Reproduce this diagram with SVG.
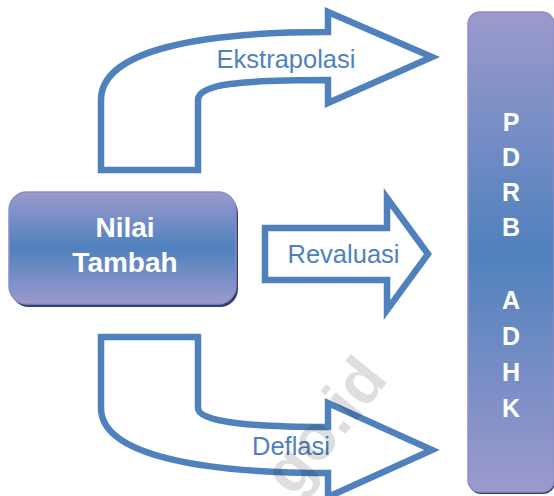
<svg xmlns="http://www.w3.org/2000/svg" width="554" height="496" viewBox="0 0 554 496">
<defs>
<linearGradient id="gBox" x1="0" y1="0" x2="0" y2="1">
<stop offset="0" stop-color="#9d9acd"/>
<stop offset="0.5" stop-color="#4f81bd"/>
<stop offset="1" stop-color="#9d9acd"/>
</linearGradient>
<style>
.arrow{fill:#ffffff;stroke:#4f81bd;stroke-width:6.5;stroke-linejoin:miter}
.lbl{font-family:"Liberation Sans",Arial,sans-serif;font-size:25.5px;fill:#4f81bd;text-anchor:middle}
.wt{font-family:"Liberation Sans",Arial,sans-serif;font-weight:bold;fill:#ffffff;text-anchor:middle}
.box{fill:url(#gBox);stroke:#8f8cc6;stroke-width:1.5}
.shadow{fill:#2f4170}
</style>
</defs>
<g id="connectors">
<g id="ekstrapolasi">
<path class="arrow" d="M101,170 L101,100 C101,50 200,32 328,32 L328,12 L432,57 L328,103 L328,80 C240,80 198,84 198,100 L198,170 Z"/>
<text class="lbl" x="286" y="68">Ekstrapolasi</text>
</g>
<g id="revaluasi">
<path class="arrow" d="M265,228 L387,228 L387,198 L428,254 L387,310 L387,280 L265,280 Z"/>
<text class="lbl" x="343.5" y="263">Revaluasi</text>
</g>
<g id="deflasi">
<path class="arrow" d="M101,337 L198,337 L198,408 C198,422 250,427 328,427 L328,403 L432,450 L328,497 L328,473 C200,473 101,455 101,408 Z"/>
<text class="lbl" x="291" y="455">Deflasi</text>
</g>
</g>
<g id="nilai-tambah">
<rect class="shadow" x="11" y="195" width="227" height="112" rx="18"/>
<rect class="box" x="9" y="192" width="227" height="112" rx="18"/>
<text class="wt" x="125" y="237" font-size="28">Nilai</text>
<text class="wt" x="125" y="272" font-size="28">Tambah</text>
</g>
<g id="pdrb-adhk">
<rect class="shadow" x="469" y="14" width="86" height="480" rx="12"/>
<rect class="box" x="468" y="12" width="86" height="480" rx="12"/>
<g class="wt" font-size="25">
<text x="511" y="131">P</text>
<text x="511" y="166">D</text>
<text x="511" y="201">R</text>
<text x="511" y="236">B</text>
<text x="511" y="309">A</text>
<text x="511" y="345">D</text>
<text x="511" y="381">H</text>
<text x="511" y="417">K</text>
</g>
</g>
<text x="0" y="0" transform="translate(389.5,379.5) rotate(-51)" font-family="Liberation Sans,Arial,sans-serif" font-weight="bold" font-size="64" text-anchor="end" fill="#000000" fill-opacity="0.13">bps.go.id</text>
</svg>
